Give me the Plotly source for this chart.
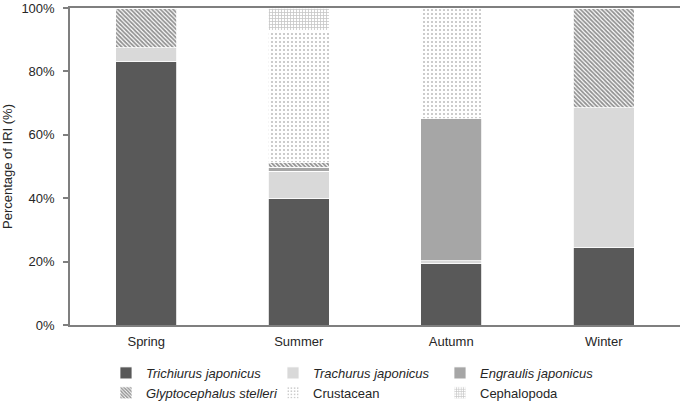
import plotly.graph_objects as go

seasons = ["Spring", "Summer", "Autumn", "Winter"]

trichiurus = [83.0, 40.0, 19.5, 24.5]
trachurus = [4.5, 8.5, 0.8, 44.0]
engraulis = [0.0, 1.2, 44.7, 0.0]
glyptocephalus = [12.5, 1.5, 0.0, 31.5]
crustacean = [0.0, 41.8, 35.0, 0.0]
cephalopoda = [0.0, 7.0, 0.0, 0.0]

fig = go.Figure()

series = [
    ("<i>Trichiurus japonicus</i>", trichiurus, "#595959", None),
    ("<i>Trachurus japonicus</i>", trachurus, "#d9d9d9", None),
    ("<i>Engraulis japonicus</i>", engraulis, "#a6a6a6", None),
    ("<i>Glyptocephalus stelleri</i>", glyptocephalus, "white",
     dict(shape="\\", fgcolor="#262626", bgcolor="white", size=3, solidity=0.6)),
    ("Crustacean", crustacean, "white",
     dict(shape=".", fgcolor="#777777", bgcolor="white", size=4, solidity=0.2)),
    ("Cephalopoda", cephalopoda, "white",
     dict(shape="+", fgcolor="#8c8c8c", bgcolor="white", size=3, solidity=0.45)),
]

for name, vals, col, pat in series:
    marker = dict(color=col, line=dict(color="white", width=0.8))
    if pat is not None:
        marker["pattern"] = pat
    fig.add_trace(go.Bar(x=seasons, y=vals, name=name, marker=marker, width=0.4))

fig.update_layout(
    barmode="stack",
    width=685, height=407,
    margin=dict(l=70, r=5, t=8, b=82, autoexpand=False),
    plot_bgcolor="white", paper_bgcolor="white",
    font=dict(family="Liberation Sans, Arial", size=13, color="#262626"),
    legend=dict(orientation="h", x=0.059, xanchor="left", y=-0.104, yanchor="top",
                entrywidth=122, traceorder="normal", font=dict(size=13),
                tracegroupgap=0, itemwidth=30),
    showlegend=True,
)
fig.update_xaxes(showline=True, linecolor="#7f7f7f", linewidth=1.5, mirror=True,
                 ticks="", showgrid=False, automargin=False, ticklabelstandoff=4)
fig.update_yaxes(range=[0, 100], dtick=20, ticksuffix="%", showline=True,
                 linecolor="#7f7f7f", linewidth=1.5, showgrid=False,
                 ticks="outside", ticklen=5, tickcolor="#7f7f7f", tickwidth=1.5,
                 automargin=False, ticklabelstandoff=6,
                 title=dict(text="Percentage of IRI (%)", font=dict(size=13)))

# drop the browser's default 8px body margin so the figure sits at the page corner
fig.write_html("out.html", config={"displayModeBar": False},
               post_script="document.body.style.margin='0px';")
